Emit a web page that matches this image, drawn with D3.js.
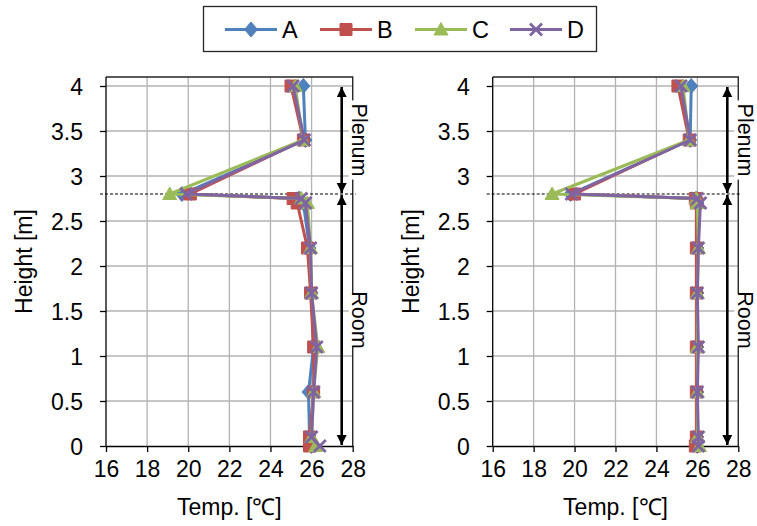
<!DOCTYPE html>
<html>
<head>
<meta charset="utf-8">
<script src="https://cdn.jsdelivr.net/npm/d3@7"></script>
<style>
  body { margin: 0; background: #fff; }
  svg { display: block; }
  text { font-family: "Liberation Sans", Arial, sans-serif; fill: #000; }
</style>
</head>
<body>
<svg id="chart" width="757" height="526"></svg>
<script>
// Vertical temperature profiles, two cases side by side
const seriesNames = ["A", "B", "C", "D"];
const seriesColors = ["#4F81BD", "#C0504D", "#9BBB59", "#8064A2"];
const seriesMarkers = ["diamond", "square", "triangle", "cross"];

// measurement heights [m]
const heights = [4.0, 3.4, 2.8, 2.75, 2.7, 2.2, 1.7, 1.1, 0.6, 0.1, 0.0];

// left case, temperature [°C] per height
const leftA = [25.6, 25.7, 19.7, 25.4, 25.6, 25.9, 26.0, 26.1, 25.85, 25.9, 26.0];
const leftB = [25.0, 25.6, 20.1, 25.1, 25.3, 25.8, 25.95, 26.1, 26.1, 25.9, 25.9];
const leftC = [25.2, 25.6, 19.1, 25.5, 25.8, 25.95, 26.0, 26.3, 26.1, 26.0, 26.2];
const leftD = [25.1, 25.65, 19.9, 25.5, 25.7, 25.95, 26.0, 26.25, 26.1, 26.0, 26.4];

// right case, temperature [°C] per height
const rightA = [25.7, 25.65, 19.8, 25.95, 26.0, 26.0, 26.0, 26.0, 26.0, 26.0, 26.0];
const rightB = [25.05, 25.6, 20.0, 25.9, 25.95, 25.95, 25.95, 25.95, 25.95, 25.95, 25.9];
const rightC = [25.3, 25.6, 18.9, 25.95, 26.0, 26.05, 26.0, 26.0, 26.0, 26.0, 26.1];
const rightD = [25.2, 25.65, 19.85, 26.0, 26.15, 26.05, 26.0, 26.05, 26.0, 26.05, 26.05];

const xTicks = [16, 18, 20, 22, 24, 26, 28];
const yTicks = [0, 0.5, 1, 1.5, 2, 2.5, 3, 3.5, 4];
const yTickLabels = ["0", "0.5", "1", "1.5", "2", "2.5", "3", "3.5", "4"];
const ceilingHeight = 2.8;
const zoneNames = ["Plenum", "Room"];
const zoneTops = [4.0, 2.8];
const zoneBottoms = [2.8, 0.0];

const svg = d3.select("#chart");
const defs = svg.append("defs");
defs.append("marker")
  .attr("id", "head")
  .attr("viewBox", "0 0 10 14")
  .attr("refX", 10).attr("refY", 5)
  .attr("markerWidth", 10).attr("markerHeight", 14)
  .attr("markerUnits", "userSpaceOnUse")
  .attr("orient", "auto")
  .append("path")
  .attr("d", "M0,0 L10,5 L0,10 Z")
  .attr("fill", "#000");

function markerPath(kind) {
  if (kind === "diamond") return "M0,-7.5 L6.5,0 L0,7.5 L-6.5,0 Z";
  if (kind === "square") return "M-6,-6 H6 V6 H-6 Z";
  if (kind === "triangle") return "M0,-7 L7,5.5 L-7,5.5 Z";
  return "M-6,-6 L6,6 M6,-6 L-6,6";
}

function drawMarker(g, kind, color) {
  const p = g.append("path").attr("d", markerPath(kind));
  if (kind === "cross") {
    p.attr("fill", "none").attr("stroke", color).attr("stroke-width", 2.8);
  } else {
    p.attr("fill", color).attr("stroke", color).attr("stroke-width", 1);
  }
}

function drawPanel(left, right, temps) {
  const x = d3.scaleLinear().domain([16, 28]).range([left, right]);
  const y = d3.scaleLinear().domain([0, 4.1]).range([446, 77]);
  const g = svg.append("g");

  // gridlines
  g.append("g").selectAll("line").data(xTicks.slice(1)).join("line")
    .attr("x1", d => x(d)).attr("x2", d => x(d))
    .attr("y1", y(0)).attr("y2", y(4.1))
    .attr("stroke", "#b3b3b3").attr("stroke-width", 1.3);
  g.append("g").selectAll("line").data(yTicks.slice(1)).join("line")
    .attr("x1", x(16)).attr("x2", x(28))
    .attr("y1", d => y(d)).attr("y2", d => y(d))
    .attr("stroke", "#b3b3b3").attr("stroke-width", 1.3);

  // plot frame (top / right)
  g.append("path")
    .attr("d", `M${x(16)},${y(4.1)} H${x(28)} V${y(0)}`)
    .attr("fill", "none").attr("stroke", "#262626").attr("stroke-width", 1.3);

  // axes
  const xAxis = d3.axisBottom(x).tickValues(xTicks).tickSize(6).tickSizeOuter(0)
    .tickFormat(d3.format("d"));
  const xg = g.append("g").attr("transform", `translate(0,${y(0)})`).call(xAxis);
  xg.select(".domain").attr("stroke", "#000").attr("stroke-width", 1.3);
  xg.selectAll(".tick line").attr("stroke", "#000").attr("stroke-width", 1.3);
  xg.selectAll(".tick text").attr("font-size", 23).attr("y", 15).attr("dy", "0.71em")
    .attr("font-family", "Liberation Sans, Arial, sans-serif").attr("fill", "#000");

  const yAxis = d3.axisLeft(y).tickValues(yTicks).tickSize(6).tickSizeOuter(0)
    .tickFormat((d, i) => yTickLabels[i]);
  const yg = g.append("g").attr("transform", `translate(${x(16)},0)`).call(yAxis);
  yg.select(".domain").attr("stroke", "#000").attr("stroke-width", 1.3)
    .attr("d", `M0,${y(0)} V${y(4.1)}`);
  yg.selectAll(".tick line").attr("stroke", "#000").attr("stroke-width", 1.3);
  yg.selectAll(".tick text").attr("font-size", 23).attr("x", -23).attr("dy", "0.36em")
    .attr("font-family", "Liberation Sans, Arial, sans-serif").attr("fill", "#000");

  // axis titles
  g.append("text")
    .attr("x", (x(16) + x(28)) / 2).attr("y", 515)
    .attr("text-anchor", "middle").attr("font-size", 23)
    .text("Temp. [\u2103]");
  g.append("text")
    .attr("transform", `translate(${x(16) - 82},${(y(0) + y(4.1)) / 2}) rotate(-90)`)
    .attr("text-anchor", "middle").attr("dy", "0.36em").attr("font-size", 23)
    .text("Height [m]");

  // ceiling line
  g.append("line")
    .attr("x1", x(16) - 6).attr("x2", x(28) + 3)
    .attr("y1", y(ceilingHeight)).attr("y2", y(ceilingHeight))
    .attr("stroke", "#000").attr("stroke-width", 1).attr("stroke-dasharray", "3,2");

  // zone arrows + labels
  const ax = x(28) - 11;
  zoneNames.forEach((name, i) => {
    const yt = y(zoneTops[i]), yb = y(zoneBottoms[i]);
    const yc = (yt + yb) / 2;
    g.append("rect")
      .attr("x", x(28) - 4).attr("y", yc - name.length * 6.6)
      .attr("width", 22).attr("height", name.length * 13.2)
      .attr("fill", "#fff");
    g.append("text")
      .attr("transform", `translate(${x(28) + 7.5},${yc}) rotate(90)`)
      .attr("text-anchor", "middle").attr("dy", "0.36em").attr("font-size", 21.5)
      .text(name);
    g.append("line")
      .attr("x1", ax).attr("x2", ax)
      .attr("y1", yc).attr("y2", yt + 1)
      .attr("stroke", "#000").attr("stroke-width", 2.6).attr("marker-end", "url(#head)");
    g.append("line")
      .attr("x1", ax).attr("x2", ax)
      .attr("y1", yc).attr("y2", yb - 1)
      .attr("stroke", "#000").attr("stroke-width", 2.6).attr("marker-end", "url(#head)");
  });

  // series lines and markers
  const line = d3.line().x(d => x(d[0])).y(d => y(d[1]));
  temps.forEach((vals, s) => {
    const pts = vals.map((t, i) => [t, heights[i]]);
    const sg = g.append("g");
    sg.append("path").datum(pts).attr("d", line)
      .attr("fill", "none").attr("stroke", seriesColors[s]).attr("stroke-width", 3)
      .attr("stroke-linejoin", "round");
    pts.forEach(p => {
      const mg = sg.append("g").attr("transform", `translate(${x(p[0])},${y(p[1])})`);
      drawMarker(mg, seriesMarkers[s], seriesColors[s]);
    });
  });
}

drawPanel(106, 352.7, [leftA, leftB, leftC, leftD]);
drawPanel(492.7, 738.3, [rightA, rightB, rightC, rightD]);

// legend
const lg = svg.append("g");
lg.append("rect").attr("x", 203.5).attr("y", 6.5).attr("width", 393).attr("height", 45)
  .attr("fill", "#fff").attr("stroke", "#262626").attr("stroke-width", 1.3);
const legendX = d3.scalePoint().domain(seriesNames).range([225, 510]);
seriesNames.forEach((name, s) => {
  const x0 = legendX(name);
  lg.append("line").attr("x1", x0).attr("x2", x0 + 52).attr("y1", 29.5).attr("y2", 29.5)
    .attr("stroke", seriesColors[s]).attr("stroke-width", 3);
  const mg = lg.append("g").attr("transform", `translate(${x0 + 26},29.5)`);
  drawMarker(mg, seriesMarkers[s], seriesColors[s]);
  lg.append("text").attr("x", x0 + 57).attr("y", 37.5).attr("font-size", 23.5).text(name);
});
</script>
</body>
</html>
